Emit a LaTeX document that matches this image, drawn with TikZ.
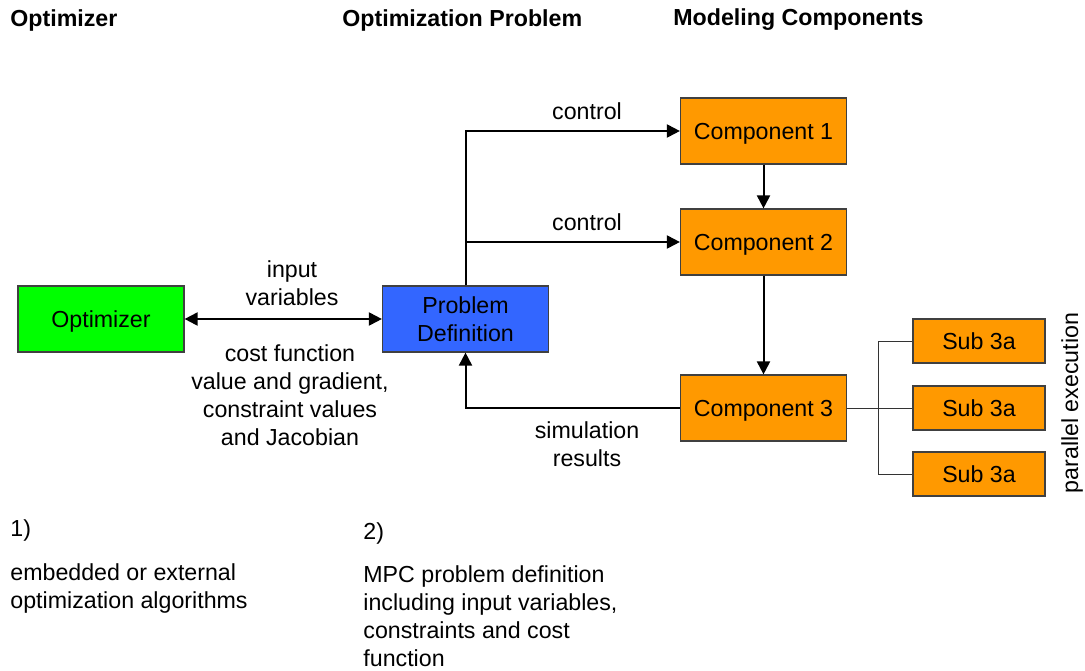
\documentclass[tikz,border=0pt]{standalone}
\usepackage{fontspec}
\setmainfont{Liberation Sans}
\usepackage{tikz}
\usetikzlibrary{arrows.meta}
\definecolor{optgreen}{HTML}{00FF00}
\definecolor{probblue}{HTML}{3366FF}
\definecolor{compOrange}{HTML}{FF9900}
\tikzset{
    main-font/.style = {font=\fontsize{11.6}{14}\selectfont},
    block/.style = {draw=black!75, line width=0.6pt, rectangle, main-font, align=center, minimum width=83pt, minimum height=33pt, inner sep=2pt},
    one-line/.style = {text height=8.3pt, text depth=0pt},
    opt-box/.style = {block, one-line, fill=optgreen},
    prob-box/.style = {block, fill=probblue},
    comp-box/.style = {block, one-line, fill=compOrange},
    sub-box/.style = {block, one-line, fill=compOrange, minimum width=66pt, minimum height=22pt},
    flow/.style = {line width=1pt, -{Triangle[length=6.5pt, width=6.5pt]}},
    split-line/.style = {draw=black!80, line width=0.5pt},
    caption/.style = {main-font, align=center, inner sep=0pt},
    heading/.style = {font=\fontsize{11.6}{14}\selectfont\bfseries, anchor=west, inner sep=0pt},
}
\begin{document}
\begin{tikzpicture}[x=0.5pt, y=-0.5pt]
\useasboundingbox (0,0) rectangle (1085,670);
% column headings
\node[heading] (h-opt) at (10,20) {Optimizer};
\node[heading] (h-prob) at (342,20) {Optimization Problem};
\node[heading] (h-comp) at (673,20) {Modeling Components};

% blocks
\node[opt-box] (opt) at (101,319) {Optimizer};
\node[prob-box] (prob) at (465.5,319) {Problem\\Definition};
\node[comp-box] (comp1) at (763.5,131) {Component 1};
\node[comp-box] (comp2) at (763.5,242) {Component 2};
\node[comp-box] (comp3) at (763.5,408) {Component 3};
\node[sub-box] (sub1) at (979,341) {Sub 3a};
\node[sub-box] (sub2) at (979,408) {Sub 3a};
\node[sub-box] (sub3) at (979,474) {Sub 3a};
\coordinate (fork) at (878,408);

% connectors
\draw[flow, {Triangle[length=6.5pt, width=6.5pt]}-{Triangle[length=6.5pt, width=6.5pt]}] (opt) -- (prob);
\draw[flow] (prob.north) |- (comp1);
\draw[flow] (prob.north) |- (comp2);
\draw[flow] (comp1) -- (comp2);
\draw[flow] (comp2) -- (comp3);
\draw[flow] (comp3) -| (prob);
\draw[split-line] (comp3) -- (sub2);
\draw[split-line] (fork) |- (sub1);
\draw[split-line] (fork) |- (sub3);

% labels
\node[caption] (l-input) at (292,283) {input\\variables};
\node[caption] (l-cost) at (290,395) {cost function\\value and gradient,\\constraint values\\and Jacobian};
\node[caption] (l-ctrl1) at (587,111) {control};
\node[caption] (l-ctrl2) at (587,222) {control};
\node[caption] (l-sim) at (587,444) {simulation\\results};
\node[caption, rotate=90] (l-par) at (1072,403) {parallel execution};

% notes
\node[caption, anchor=west] (n1) at (10,530) {1)};
\node[caption, align=left, anchor=north west] (n1-text) at (10,563) {embedded or external\\optimization algorithms};
\node[caption, anchor=west] (n2) at (363,533) {2)};
\node[caption, align=left, anchor=north west] (n2-text) at (363,565) {MPC problem definition\\including input variables,\\constraints and cost\\function};
\end{tikzpicture}
\end{document}
